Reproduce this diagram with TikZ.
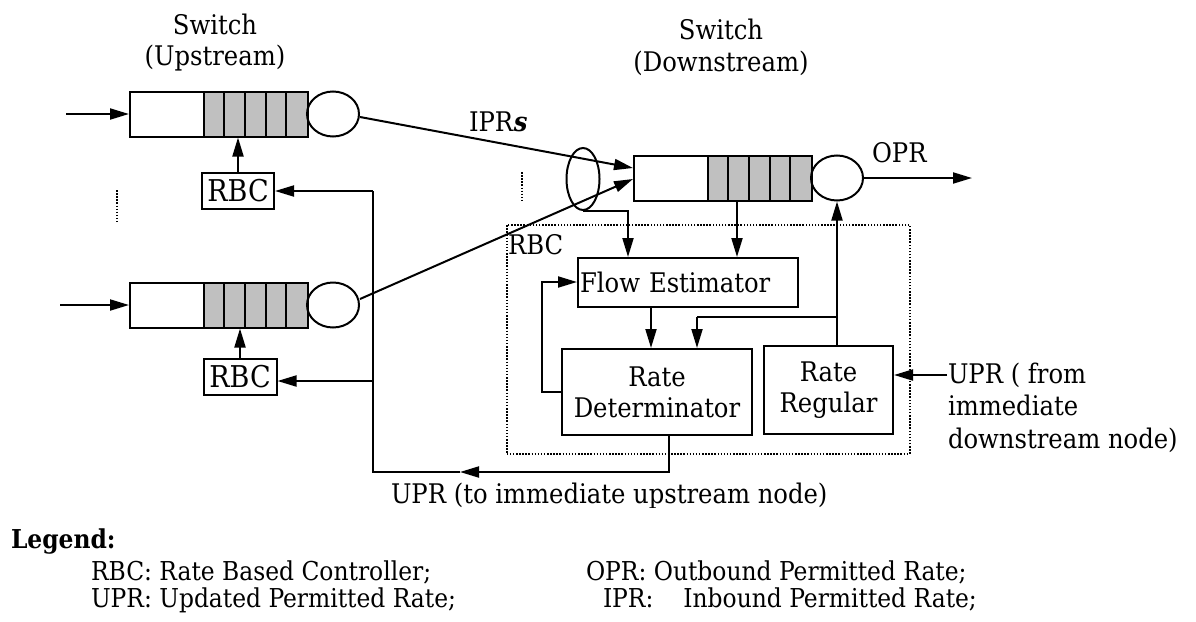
\documentclass[tikz,border=0pt]{standalone}
\usepackage{fontspec}
\setmainfont{DejaVu Serif Condensed}
\usetikzlibrary{arrows.meta,shapes.geometric}
\definecolor{cellgray}{HTML}{C0C0C0}
\begin{document}
\begin{tikzpicture}[x=1pt,y=-1pt,line width=2pt,
  every node/.style={inner sep=0pt},
  txt/.style={font=\fontsize{27}{31}\selectfont},
  big/.style={font=\fontsize{30}{34}\selectfont},
  leg/.style={font=\fontsize{26}{30}\selectfont},
  arr/.style={-{Triangle[length=19pt,width=11pt]}},
  blk/.style={draw,line width=2pt},
  dots/.style={line width=1.5pt,dash pattern=on 1.5pt off 1.6pt},
  queue/.pic={
    \fill[cellgray] (75,-22.5) rectangle (178,22.5);
    \foreach \x in {75,95,116,137,157} \draw (\x,-22.5) -- (\x,22.5);
    \node[blk,anchor=west,minimum width=178pt,minimum height=45pt] (-box) at (0,0) {};
    \node[blk,ellipse,minimum width=52pt,minimum height=45pt] (-srv) at (204,0) {};
  }]
\useasboundingbox (0,0) rectangle (1196,621);

% titles (base anchor = baseline of last line)
\node[txt,align=center,anchor=base] (sw1) at (215,65) {Switch\\(Upstream)};
\node[txt,align=center,anchor=base,font=\fontsize{27}{32}\selectfont] (sw2) at (721,71) {Switch\\(Downstream)};

% queues
\pic (u1) at (129,114) {queue};
\pic (u2) at (129,305) {queue};
\pic (d) at (633,178) {queue};

\coordinate (in1) at (66,114);
\coordinate (in2) at (60,305);
\draw[arr] (in1) -- (u1-box.west);
\draw[arr] (in2) -- (u2-box.west);

% upstream RBCs
\node[blk,big,minimum width=72pt,minimum height=36pt] (rbc1) at (238,191) {RBC};
\node[blk,big,minimum width=73pt,minimum height=36pt] (rbc2) at (240,377) {RBC};
\draw[arr] (rbc1.north) -- (rbc1.north |- u1-box.south);
\draw[arr] (rbc2.north) -- (rbc2.north |- u2-box.south);

% dots
\draw[dots] (117,190) -- (117,222);
\draw[dots] (522,172) -- (522,203);

% IPR bundle
\node[blk,ellipse,minimum width=33pt,minimum height=62pt] (bun) at (583,179) {};
\draw[arr] ([yshift=-3pt]u1-srv.east) -- ([yshift=10pt]d-box.west);
\draw[arr] ([yshift=6pt]u2-srv.east) -- ([yshift=-1pt]d-box.west);
\node[txt,anchor=base west] (ipr) at (468,131) {IPR\textbf{\textit{s}}};

% OPR
\coordinate (opr) at (972,178);
\draw[arr] (d-srv.east) -- (opr);
\node[txt,anchor=base west] (oprl) at (871,162) {OPR};

% RBC group
\node[draw,dots,minimum width=403pt,minimum height=229pt,anchor=north west] (grp) at (506,224) {};
\node[txt,anchor=base west] (grpl) at (507,254) {RBC};

\node[blk,txt,anchor=north west,minimum height=49pt,text width=216pt,align=left,inner xsep=2pt] (fe) at (577,257) {Flow Estimator};
\node[blk,txt,align=center,minimum width=190pt,minimum height=86pt] (rd) at (657,392) {Rate\\Determinator};
\node[blk,txt,align=center,minimum width=129pt,minimum height=88pt] (rr) at (828.5,390) {Rate\\Regular};

\draw[arr] (bun.south) -| ([xshift=51pt]fe.north west);
\coordinate (q2fe) at (737,0);
\draw[arr] (q2fe |- d-box.south) -- (q2fe |- fe.north);

\coordinate (fbc) at (542,282);
\draw[arr] (rd.west) -| (fbc) -- (fbc -| fe.west);

\coordinate (a1) at (651,0);
\draw[arr] (a1 |- fe.south) -- (a1 |- rd.north);
\coordinate (a2) at (697,317);
\draw[arr] (a2) -- (a2 |- rd.north);
\draw (a2) -- (a2 -| d-srv.south);
\draw[arr] (rr.north -| d-srv.south) -- (d-srv.south);

% UPR from downstream
\coordinate (uprin) at (947,375);
\draw[arr] (uprin) -- (uprin -| rr.east);
\node[txt,align=left,anchor=base west,font=\fontsize{27}{32.5}\selectfont] (uprt) at (947,448) {UPR ( from\\immediate\\downstream node)};

% UPR to upstream
\coordinate (b1) at (669,472);
\coordinate (bm) at (460,472);
\coordinate (b2) at (373,472);
\draw[arr] (rd.south -| b1) |- (bm);
\draw (bm) -- (b2) -- (b2 |- rbc1.east);
\draw[arr] (b2 |- rbc1.east) -- (rbc1.east);
\draw[arr] ([yshift=-4pt]b2 |- rbc2.east) -- ([yshift=-4pt]rbc2.east);
\begin{scope}
\clip (380,478) rectangle (870,507);
\node[txt,anchor=base west] (uprl) at (390,503) {UPR (to immediate upstream node)};
\end{scope}

% legend
\node[leg,anchor=base west,font=\fontsize{26}{30}\bfseries] (lg) at (10,548) {Legend:};
\node[leg,anchor=base west] (l1) at (90,580) {RBC: Rate Based Controller;};
\node[leg,anchor=base west] (l2) at (90,607) {UPR: Updated Permitted Rate;};
\node[leg,anchor=base west] (l3) at (585,580) {OPR: Outbound Permitted Rate;};
\node[leg,anchor=base west] (l4) at (602,607) {IPR:\hspace{30pt}Inbound Permitted Rate;};
\end{tikzpicture}
\end{document}
